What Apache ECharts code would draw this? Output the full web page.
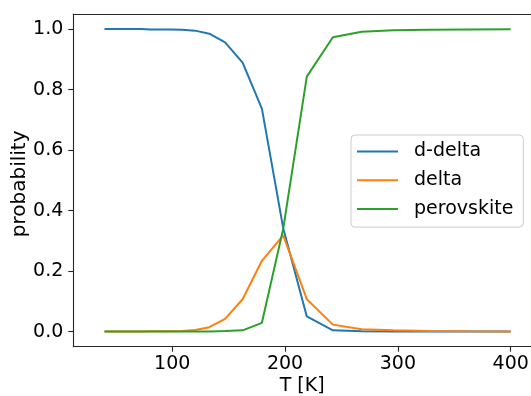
<!DOCTYPE html>
<html>
<head>
<meta charset="utf-8">
<script src="https://cdn.jsdelivr.net/npm/echarts@6/dist/echarts.min.js"></script>
<style>
html,body{margin:0;padding:0;background:#fff;}
#c{width:531px;height:396px;}
</style>
</head>
<body>
<div id="c"></div>
<script>
const T = [40, 44.2, 48.9, 54.0, 59.7, 66.0, 72.9, 80.6, 89.1, 98.5, 108.8, 120.3, 132.9, 146.9, 162.4, 179.5, 198.4, 219.3, 242.4, 267.9, 296.1, 327.3, 361.8, 400];
const dDelta = [1.0, 1.0, 1.0, 1.0, 1.0, 1.0, 1.0, 0.999, 0.999, 0.999, 0.998, 0.995, 0.985, 0.956, 0.889, 0.737, 0.342, 0.050, 0.004, 0.001, 0.0, 0.0, 0.0, 0.0];
const delta = [0, 0, 0, 0, 0, 0, 0, 0.001, 0.001, 0.001, 0.002, 0.005, 0.0145, 0.042, 0.107, 0.234, 0.318, 0.107, 0.023, 0.008, 0.004, 0.002, 0.001, 0.0005];
const perovskite = [0, 0, 0, 0, 0, 0, 0, 0, 0, 0, 0, 0, 0.0005, 0.002, 0.004, 0.029, 0.340, 0.843, 0.973, 0.991, 0.996, 0.998, 0.999, 0.9995];
const xTicks = [100, 200, 300, 400];
const yTicks = [0, 0.2, 0.4, 0.6, 0.8, 1.0];
const seriesNames = ['d-delta', 'delta', 'perovskite'];
const colors = ['#1f77b4', '#ff7f0e', '#2ca02c'];

const font = 'DejaVu Sans';
const fs = 19;
const pair = (ys) => T.map((t, i) => [t, ys[i]]);
const allY = [dDelta, delta, perovskite];

const chart = echarts.init(document.getElementById('c'), null, {renderer: 'canvas'});
chart.setOption({
  animation: false,
  backgroundColor: '#fff',
  grid: {left: 73.3, top: 14, right: 0, bottom: 49.3, containLabel: false, outerBoundsMode: 'none'},
  xAxis: [{
    type: 'value', min: 12.35, max: 418,
    name: 'T [K]', nameLocation: 'middle', nameGap: 30, nameMoveOverlap: false,
    nameTextStyle: {fontFamily: font, fontSize: fs, color: '#000', verticalAlign: 'top'},
    axisLine: {show: true, onZero: false, lineStyle: {color: '#262626', width: 1.1}},
    axisTick: {show: true, length: 5, inside: false, customValues: xTicks, lineStyle: {color: '#262626', width: 1.1}},
    axisLabel: {customValues: xTicks, margin: 8, fontFamily: font, fontSize: fs, color: '#000'},
    splitLine: {show: false}
  }, {
    type: 'value', min: 12.35, max: 418, position: 'top',
    axisLine: {show: true, onZero: false, lineStyle: {color: '#262626', width: 1.1}},
    axisTick: {show: false}, axisLabel: {show: false}, splitLine: {show: false}
  }],
  yAxis: {
    type: 'value', min: -0.05, max: 1.05,
    name: 'probability', nameLocation: 'middle', nameGap: 44, nameMoveOverlap: false,
    nameTextStyle: {fontFamily: font, fontSize: 20, color: '#000', padding: [0, 7, 0, 0]},
    axisLine: {show: true, onZero: false, lineStyle: {color: '#262626', width: 1.1}},
    axisTick: {show: true, length: 5, customValues: yTicks, lineStyle: {color: '#262626', width: 1.1}},
    axisLabel: {customValues: yTicks, margin: 10, fontFamily: font, fontSize: fs, color: '#000',
      formatter: v => v.toFixed(1)},
    splitLine: {show: false}
  },
  legend: {
    left: 351, top: 135,
    orient: 'vertical',
    data: seriesNames,
    icon: 'rect',
    itemWidth: 41, itemHeight: 2, itemGap: 6.8,
    padding: [5.5, 10, 7, 6],
    backgroundColor: 'rgba(255,255,255,0.8)',
    borderColor: '#cccccc', borderWidth: 1, borderRadius: 4,
    textStyle: {fontFamily: font, fontSize: fs, color: '#000', padding: [0, 0, 0, 11], lineHeight: 22}
  },
  series: seriesNames.map((n, k) => ({
    name: n, type: 'line', data: pair(allY[k]), symbol: 'none', showSymbol: false,
    lineStyle: {color: colors[k], width: 2}, itemStyle: {color: colors[k]}, z: 2 + k
  }))
});
</script>
</body>
</html>
